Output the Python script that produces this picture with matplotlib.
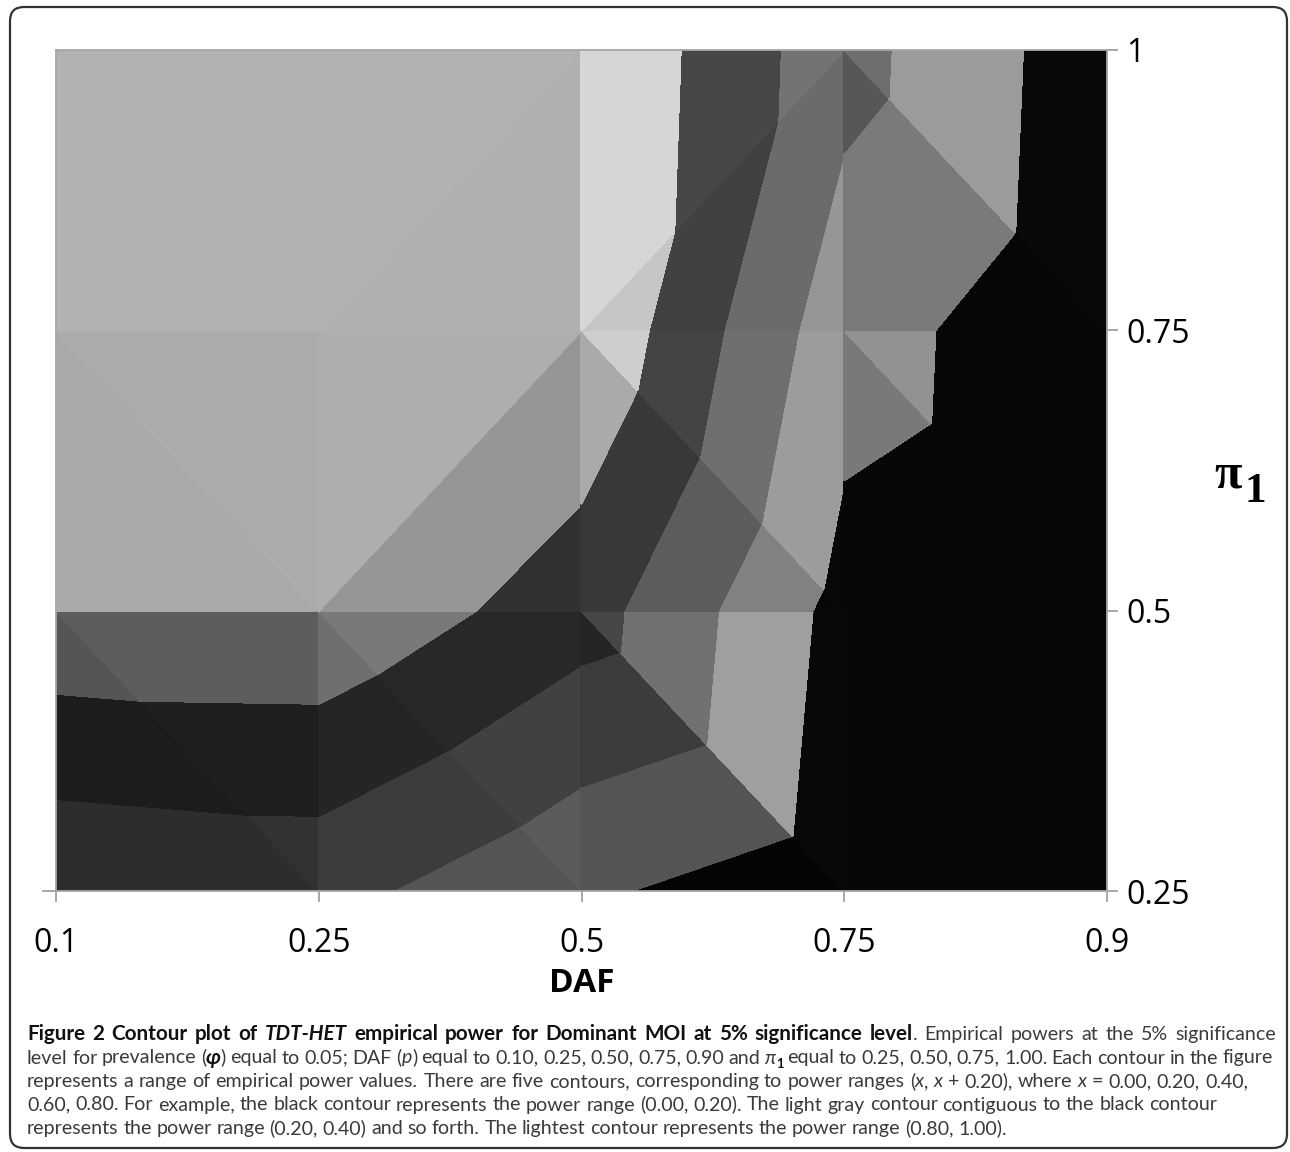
import re
import numpy as np
import matplotlib
matplotlib.use("Agg")
import matplotlib.pyplot as plt
import matplotlib.tri as mtri
from matplotlib.font_manager import FontProperties
from matplotlib.patches import FancyBboxPatch
from matplotlib.transforms import IdentityTransform

# ---- data ----
daf_labels = ["0.1", "0.25", "0.5", "0.75", "0.9"]
pi1_values = [0.25, 0.5, 0.75, 1.0]
pi1_labels = ["0.25", "0.5", "0.75", "1"]

# empirical power, rows = pi1 (0.25 .. 1.0), columns = DAF (0.1 .. 0.9)
power = [
    [0.425, 0.466, 0.228, 0.080, 0.030],
    [0.958, 0.966, 0.689, 0.133, 0.044],
    [1.000, 1.000, 0.980, 0.277, 0.055],
    [1.000, 1.000, 1.000, 0.470, 0.073],
]

# how Excel splits every grid cell into two facets
cell_split = [
    ["\\", "\\", "\\", "\\"],
    ["\\", "/", "\\", "\\"],
    ["\\", "/", "/", "\\"],
]

band_edges = [-0.05, 0.2, 0.4, 0.6, 0.8, 1.05]
band_gray = [8, 160, 114, 70, 212]      # black, light gray, mid, dark, lightest
light = (0.354, 0.80, 0.84)              # surface lighting: -dz/dx, -dz/dy, flat

caption_lines = [
    [("Figure 2 Contour plot of ", "b"), ("TDT-HET", "bi"),
     (" empirical power for Dominant MOI at 5% significance level", "b"),
     (". Empirical powers at the 5% significance", "r")],
    [("level for prevalence (", "r"), ("φ", "bi"), (") equal to 0.05; DAF (", "r"),
     ("p", "i"), (") equal to 0.10, 0.25, 0.50, 0.75, 0.90 and ", "r"), ("π", "i"),
     ("1", "sub"), (" equal to 0.25, 0.50, 0.75, 1.00. Each contour in the figure", "r")],
    [("represents a range of empirical power values. There are five contours, "
      "corresponding to power ranges (", "r"), ("x", "i"), (", ", "r"), ("x", "i"),
     (" + 0.20), where ", "r"), ("x", "i"), (" = 0.00, 0.20, 0.40,", "r")],
    [("0.60, 0.80. For example, the black contour represents the power range (0.00, 0.20). "
      "The light gray contour contiguous to the black contour", "r")],
    [("represents the power range (0.20, 0.40) and so forth. The lightest contour "
      "represents the power range (0.80, 1.00).", "r")],
]
caption_ends = [1276, 1273, 1248, 1217, 1007]   # right end of each caption line (px)
caption_font = ["Lato", "DejaVu Sans"]

W, H = 1290, 1152
plt.rcParams['font.family'] = ['Open Sans', 'DejaVu Sans']

fig = plt.figure(figsize=(W / 100, H / 100), dpi=100)
ax = fig.add_axes([56 / W, 1 - 891 / H, 1051 / W, 841 / H])

# ---- facets of the surface, each banded and shaded on its own ----
ncol = len(daf_labels)
gx, gy = np.meshgrid(np.arange(ncol, dtype=float), pi1_values)
px, py, pz = gx.ravel(), gy.ravel(), np.array(power).ravel()
row_step = pi1_values[1] - pi1_values[0]

facets = []
for j, row in enumerate(cell_split):
    for i, split in enumerate(row):
        bl, br = j * ncol + i, j * ncol + i + 1
        tl, tr = (j + 1) * ncol + i, (j + 1) * ncol + i + 1
        if split == "\\":
            facets += [[bl, br, tl], [br, tr, tl]]
        else:
            facets += [[bl, br, tr], [bl, tr, tl]]

for f in facets:
    fx, fy, fz = px[f], py[f], pz[f]
    A = np.array([[fx[1] - fx[0], (fy[1] - fy[0]) / row_step],
                  [fx[2] - fx[0], (fy[2] - fy[0]) / row_step]])
    dzdx, dzdy = np.linalg.solve(A, [fz[1] - fz[0], fz[2] - fz[0]])
    shade = light[2] - light[0] * dzdx - light[1] * dzdy
    cols = [(min(g * shade, 255) / 255,) * 3 for g in band_gray]
    cs = ax.tricontourf(mtri.Triangulation(fx, fy, [[0, 1, 2]]), fz,
                        levels=band_edges, colors=cols)
    cs.set_edgecolor("face")
    cs.set_linewidth(0.8)

ax.set_xlim(0, ncol - 1)
ax.set_ylim(pi1_values[0], pi1_values[-1])
ax.set_xticks(range(ncol))
ax.set_xticklabels(daf_labels)
ax.yaxis.tick_right()
ax.set_yticks(pi1_values)
ax.set_yticklabels(pi1_labels)
ax.tick_params(axis="x", direction="out", length=8, width=1.3, color="#a0a0a0",
               pad=18, labelsize=23)
ax.tick_params(axis="y", direction="out", length=8, width=1.3, color="#a0a0a0",
               pad=6, labelsize=23)
for s in ax.spines.values():
    s.set_color("#a6a6a6")
    s.set_linewidth(1.3)
ax.plot([-0.012, 0], [0, 0], transform=ax.transAxes, color="#a0a0a0",
        lw=1.3, clip_on=False)

fig.text(582 / W, 1 - 992 / H, "DAF", ha="center", va="baseline",
         fontsize=24, fontweight="bold")
fig.text(1214 / W, 1 - 488 / H, "π", ha="left", va="baseline", fontsize=36,
         fontweight="bold", family=["Liberation Serif", "DejaVu Serif"])
fig.text(1244 / W, 1 - 502 / H, "1", ha="left", va="baseline", fontsize=31,
         fontweight="bold", family=["Liberation Serif", "DejaVu Serif"])

# ---- caption ----
renderer = fig.canvas.get_renderer()


def font_for(style, size):
    weight = "bold" if "b" in style else "normal"
    slant = "italic" if "i" in style else "normal"
    if style == "sub":
        size = size * 0.62
    if "b" in style:
        size = size * 1.05
    return FontProperties(family=caption_font, size=size, weight=weight, style=slant)


def width_of(s, fp):
    w1 = renderer.get_text_width_height_descent("|" + s + "|", fp, ismath=False)[0]
    w0 = renderer.get_text_width_height_descent("||", fp, ismath=False)[0]
    return w1 - w0


def draw_line(runs, x0, base, size, extra=0.0, draw=True):
    x = x0
    nspace = 0
    for text, style in runs:
        fp = font_for(style, size)
        color = "#111111" if "b" in style else "#3a3a3a"
        dy = 4 if style == "sub" else 0
        for piece in re.split(r"( )", text):
            if piece == "":
                continue
            w = width_of(piece, fp)
            if piece == " ":
                nspace += 1
                x += w + extra
                continue
            if draw:
                fig.text(x / W, 1 - (base + dy) / H, piece, fontproperties=fp,
                         color=color, ha="left", va="baseline")
            x += w
    return x - x0, nspace


test = 12.0
cap_size = test * 980 / draw_line(caption_lines[-1], 0, 0, test, draw=False)[0]
x_left = 27
for k, runs in enumerate(caption_lines):
    natural, nspace = draw_line(runs, 0, 0, cap_size, draw=False)
    extra = (caption_ends[k] - x_left - natural) / max(nspace, 1)
    draw_line(runs, x_left, 1040 + k * 23.5, cap_size, extra=extra)

fig.add_artist(FancyBboxPatch((10, 4), 1277, 1141,
                              boxstyle="round,pad=0,rounding_size=14",
                              transform=IdentityTransform(), fill=False,
                              edgecolor="#333333", linewidth=1.6))

fig.savefig("out.png", dpi=100)
